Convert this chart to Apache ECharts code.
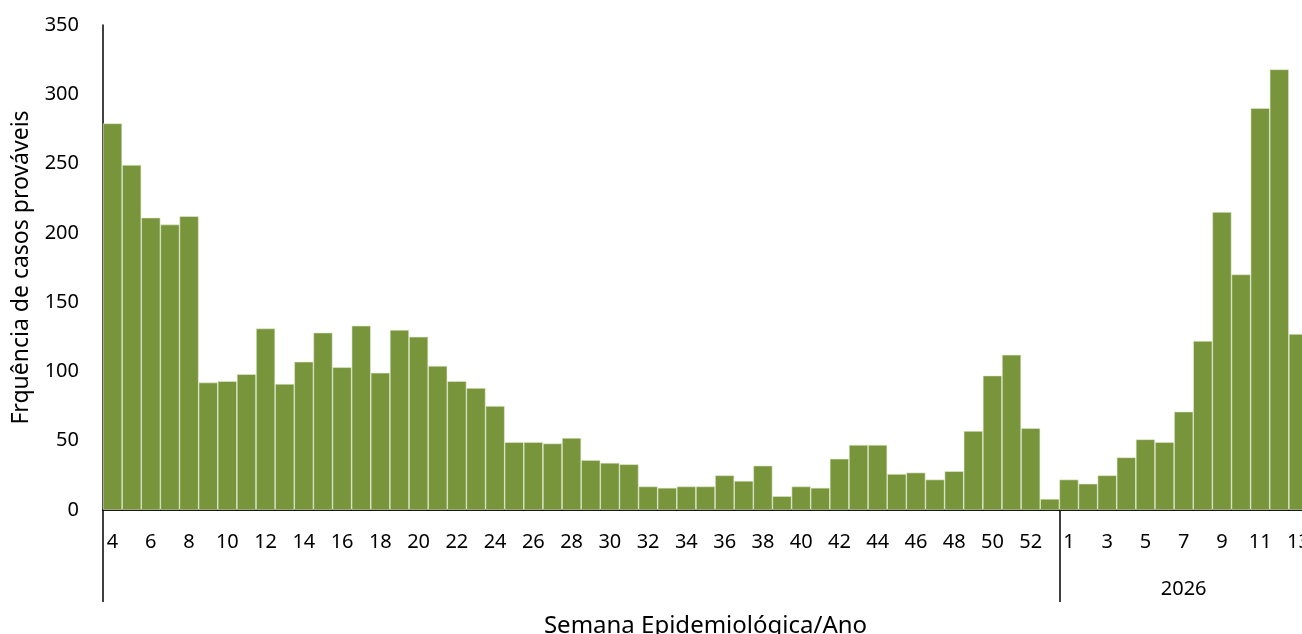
<!DOCTYPE html>
<html>
<head>
<meta charset="utf-8">
<script src="https://cdn.jsdelivr.net/npm/echarts@6/dist/echarts.min.js"></script>
<style>
html,body{margin:0;padding:0;background:#fff;}
#c{width:1302px;height:634px;}
</style>
</head>
<body>
<div id="c"></div>
<script>
// Weeks (2025: 4..53, 2026: 1..13)
const weeks = [4,5,6,7,8,9,10,11,12,13,14,15,16,17,18,19,20,21,22,23,24,25,26,27,28,29,30,31,32,33,34,35,36,37,38,39,40,41,42,43,44,45,46,47,48,49,50,51,52,53,
  1,2,3,4,5,6,7,8,9,10,11,12,13];
const years = [];
for (let i = 0; i < 50; i++) years.push('2025');
for (let i = 0; i < 13; i++) years.push('2026');
const cases = [279,249,211,206,212,92,93,98,131,91,107,128,103,133,99,130,125,104,93,88,75,49,49,48,52,36,34,33,17,16,17,17,25,21,32,10,17,16,37,47,47,26,27,22,28,57,97,112,59,8,
  22,19,25,38,51,49,71,122,215,170,290,318,127];
const yTicks = [0,50,100,150,200,250,300,350];
const shownYear = '2026';

const FONT = 'Noto Sans';
const chart = echarts.init(document.getElementById('c'), null, {renderer:'canvas'});

// group boundaries and centers for the year axis
const boundaries = [];
const centers = {};
years.forEach((y, i) => { if (i === 0 || years[i-1] !== y) boundaries.push(i); });
boundaries.forEach((b, k) => {
  const end = (k + 1 < boundaries.length ? boundaries[k+1] : years.length);
  centers[Math.floor((b + end - 1) / 2)] = years[b];
});

chart.setOption({
  animation: false,
  grid: {left: 103, right: -6, top: 25, bottom: 124, containLabel: false, outerBoundsMode: 'none'},
  xAxis: [{
    type: 'category',
    data: weeks.map(String),
    boundaryGap: true,
    axisLine: {show: true, lineStyle: {color: '#000', width: 2}},
    axisTick: {show: false},
    axisLabel: {interval: 1, color: '#000', fontFamily: FONT, fontSize: 20, margin: 22},
    name: 'Semana Epidemiológica/Ano',
    nameLocation: 'middle',
    nameGap: 104,
    nameTextStyle: {color: '#000', fontFamily: FONT, fontSize: 24}
  }, {
    type: 'category',
    data: years,
    position: 'bottom',
    boundaryGap: true,
    axisLine: {show: false},
    axisTick: {show: true, length: 92, interval: (i) => boundaries.indexOf(i) >= 0, lineStyle: {color: '#000', width: 1.5}},
    axisLabel: {interval: (i) => centers[i] !== undefined && years[i] === shownYear, color: '#000', fontFamily: FONT, fontSize: 20, margin: 69,
      formatter: (v) => v}
  }],
  yAxis: {
    type: 'value',
    min: 0, max: 350, interval: 50,
    axisLine: {show: true, lineStyle: {color: '#000', width: 1.5}},
    axisTick: {show: false},
    splitLine: {show: false},
    axisLabel: {color: '#000', fontFamily: FONT, fontSize: 20, margin: 24},
    name: 'Frquência de casos prováveis',
    nameLocation: 'middle',
    nameGap: 70,
    nameTextStyle: {color: '#000', fontFamily: FONT, fontSize: 23}
  },
  series: [{
    type: 'bar',
    data: cases,
    barCategoryGap: 0,
    itemStyle: {color: '#78953C', borderColor: '#e3ebd2', borderWidth: 0.6},
    z: 1
  }]
});
</script>
</body>
</html>
